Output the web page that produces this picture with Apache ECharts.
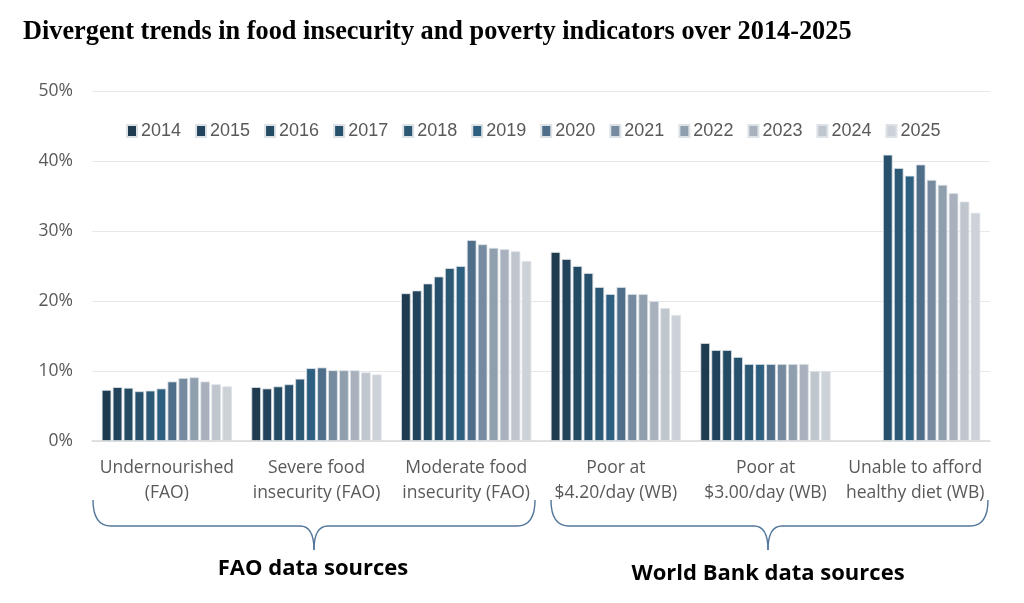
<!DOCTYPE html>
<html>
<head>
<meta charset="utf-8">
<script src="https://cdn.jsdelivr.net/npm/echarts@6/dist/echarts.min.js"></script>
<style>html,body{margin:0;padding:0;background:#fff;}#c{width:1024px;height:603px;}</style>
</head>
<body>
<div id="c"></div>
<script>
var categories = ['Undernourished\n(FAO)', 'Severe food\ninsecurity (FAO)', 'Moderate food\ninsecurity (FAO)', 'Poor at\n$4.20/day (WB)', 'Poor at\n$3.00/day (WB)', 'Unable to afford\nhealthy diet (WB)'];
var years = ['2014','2015','2016','2017','2018','2019','2020','2021','2022','2023','2024','2025'];
var colors = ['#1f3b50','#21445c','#244b64','#26506b','#2b5874','#2d5f80','#4e6e8a','#768aa0','#909fae','#a8b1bd','#c0c6ce','#cdd2d8'];
// values per category, one entry per year (2014..2025), in %
var undernourished = [7.3, 7.7, 7.6, 7.1, 7.2, 7.5, 8.5, 9.0, 9.1, 8.5, 8.1, 7.8];
var severeFood     = [7.7, 7.5, 7.8, 8.1, 8.9, 10.4, 10.5, 10.1, 10.1, 10.1, 9.8, 9.5];
var moderateFood   = [21.1, 21.5, 22.5, 23.5, 24.7, 25.0, 28.7, 28.1, 27.6, 27.4, 27.1, 25.7];
var poor420        = [27, 26, 25, 24, 22, 21, 22, 21, 21, 20, 19, 18];
var poor300        = [14, 13, 13, 12, 11, 11, 11, 11, 11, 11, 10, 10];
var healthyDiet    = [null, null, null, 40.9, 39.0, 37.9, 39.5, 37.3, 36.6, 35.4, 34.2, 32.6];
var yTicks = [0, 10, 20, 30, 40, 50];
var groups = [undernourished, severeFood, moderateFood, poor420, poor300, healthyDiet];

var series = years.map(function(y, i){
  return {
    name: y,
    type: 'bar',
    data: groups.map(function(g){ return g[i]; }),
    itemStyle: { color: colors[i], borderColor: '#dde2e7', borderWidth: 0.8 },
    barGap: '14%',
    barCategoryGap: '13%'
  };
});

function bracket(x0, x1, xm, yTop, yBase, yTip, r) {
  var st = { stroke: '#52769a', lineWidth: 1.4, fill: null };
  return [
    { type: 'bezierCurve', shape: { x1: x0, y1: yTop, cpx1: x0, cpy1: yBase, x2: x0 + r, y2: yBase }, style: st },
    { type: 'line', shape: { x1: x0 + r, y1: yBase, x2: xm - 14, y2: yBase }, style: st },
    { type: 'bezierCurve', shape: { x1: xm - 14, y1: yBase, cpx1: xm, cpy1: yBase, x2: xm, y2: yTip }, style: st },
    { type: 'bezierCurve', shape: { x1: xm + 14, y1: yBase, cpx1: xm, cpy1: yBase, x2: xm, y2: yTip }, style: st },
    { type: 'line', shape: { x1: xm + 14, y1: yBase, x2: x1 - r, y2: yBase }, style: st },
    { type: 'bezierCurve', shape: { x1: x1, y1: yTop, cpx1: x1, cpy1: yBase, x2: x1 - r, y2: yBase }, style: st }
  ];
}

var graphics = [].concat(
  bracket(93, 535, 314, 500, 526, 550, 18),
  bracket(551, 988, 768, 500, 526, 550, 18),
  [
    { type: 'text', x: 313, y: 558, style: { text: 'FAO data sources', textAlign: 'center', textVerticalAlign: 'top', font: 'bold 22px "Open Sans"', fill: '#000' } },
    { type: 'text', x: 768, y: 563, style: { text: 'World Bank data sources', textAlign: 'center', textVerticalAlign: 'top', font: 'bold 22px "Open Sans"', fill: '#000' } }
  ]
);

var chart = echarts.init(document.getElementById('c'));
chart.setOption({
  animation: false,
  title: {
    text: 'Divergent trends in food insecurity and poverty indicators over 2014-2025',
    left: 18, top: 14,
    textStyle: { fontFamily: 'Liberation Serif', fontWeight: 'bold', fontSize: 26.3, color: '#000' }
  },
  legend: {
    data: years,
    top: 117, left: 121,
    icon: 'rect', itemWidth: 10, itemHeight: 12, itemGap: 14,
    textStyle: { fontFamily: 'Liberation Sans', fontSize: 18, color: '#595959', padding: [0,0,0,-1] }
  },
  grid: { left: 92, right: 34, top: 91, bottom: 162, containLabel: false },
  xAxis: {
    type: 'category',
    data: categories,
    axisTick: { show: false },
    axisLine: { lineStyle: { color: '#d9d9d9', width: 1.5 } },
    axisLabel: { fontFamily: 'Open Sans', fontSize: 17.5, color: '#595959', lineHeight: 25, margin: 15, interval: 0 }
  },
  yAxis: {
    type: 'value',
    min: yTicks[0], max: yTicks[yTicks.length-1], interval: 10,
    axisLine: { show: false }, axisTick: { show: false },
    splitLine: { lineStyle: { color: '#e8e8e8', width: 1 } },
    axisLabel: { formatter: '{value}%', fontFamily: 'Open Sans', fontSize: 17.5, color: '#595959', margin: 19 }
  },
  series: series,
  graphic: graphics
});
</script>
</body>
</html>
